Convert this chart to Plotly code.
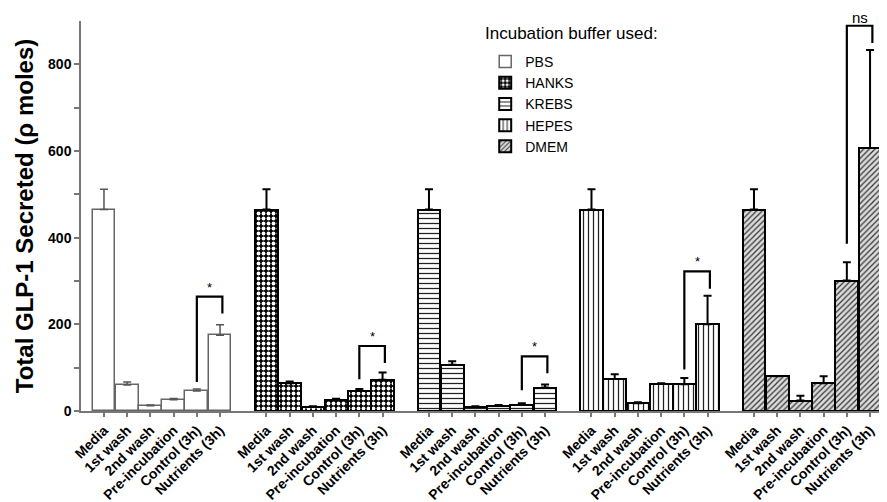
import plotly.graph_objects as go

# ---- data ----
categories = ["Media", "1st wash", "2nd wash", "Pre-incubation", "Control (3h)", "Nutrients (3h)"]
buffers = ["PBS", "HANKS", "KREBS", "HEPES", "DMEM"]

pbs_mean = [465, 60, 12, 26, 46, 175]
pbs_err = [47, 7, 2, 3, 5, 24]
hanks_mean = [465, 64, 10, 26, 46, 72]
hanks_err = [47, 4, 1, 2, 5, 17]
krebs_mean = [465, 107, 10, 12, 15, 54]
krebs_err = [47, 8, 1, 2, 3, 7]
hepes_mean = [465, 74, 18, 63, 62, 200]
hepes_err = [47, 11, 2, 1, 14, 66]
dmem_mean = [465, 80, 24, 64, 301, 607]
dmem_err = [47, 1, 11, 16, 42, 226]

# significance brackets: (left arm bottom, top, right arm bottom, label)
brackets = [
    (67, 264, 225, "*"),
    (73, 150, 111, "*"),
    (48, 126, 87, "*"),
    (96, 322, 282, "*"),
    (386, 889, 849, "ns"),
]

means = [pbs_mean, hanks_mean, krebs_mean, hepes_mean, dmem_mean]
errs = [pbs_err, hanks_err, krebs_err, hepes_err, dmem_err]

styles = [
    dict(color="white", line=dict(color="#666", width=1.5),
         pattern=dict(shape="")),
    dict(color="black", line=dict(color="black", width=2),
         pattern=dict(shape=".", fgcolor="white", bgcolor="black", size=5, solidity=0.45, fillmode="replace")),
    dict(color="white", line=dict(color="black", width=2),
         pattern=dict(shape="-", fgcolor="#222", bgcolor="white", size=5, solidity=0.25, fillmode="replace")),
    dict(color="white", line=dict(color="black", width=2),
         pattern=dict(shape="|", fgcolor="#222", bgcolor="white", size=5, solidity=0.25, fillmode="replace")),
    dict(color="#d0d0d0", line=dict(color="black", width=2),
         pattern=dict(shape="/", fgcolor="#333", bgcolor="#dcdcdc", size=4, solidity=0.3, fillmode="replace")),
]

GROUP = 7  # slots per group (6 bars + gap)
FONT = "Liberation Sans, Arial, sans-serif"

fig = go.Figure()
tickvals, ticktext = [], []
for g, name in enumerate(buffers):
    xs = [GROUP * g + i for i in range(len(categories))]
    tickvals += xs
    ticktext += categories
    st = styles[g]
    ecol = "#555" if g == 0 else "black"
    fig.add_trace(go.Bar(
        x=xs, y=means[g], name=name, width=0.98,
        marker=dict(color=st["color"], line=st["line"], pattern=st["pattern"]),
        error_y=dict(type="data", array=errs[g], arrayminus=[0] * len(errs[g]),
                     symmetric=False, color=ecol, thickness=2 if g else 1.5, width=4),
    ))

shapes, annotations = [], []
for g, (lb, top, rb, lab) in enumerate(brackets):
    xl = GROUP * g + 4
    xr = GROUP * g + 5 + 0.1
    shapes.append(dict(type="path", xref="x", yref="y",
                       path=f"M {xl} {lb} L {xl} {top} L {xr} {top} L {xr} {rb}",
                       line=dict(color="black", width=2.2)))
    annotations.append(dict(x=(xl + xr) / 2, y=top, xref="x", yref="y", text=lab,
                            showarrow=False, yanchor="bottom", yshift=0 if lab == "*" else -2,
                            font=dict(size=13 if lab == "*" else 15, color="black", family=FONT)))

# legend title as text above the legend entries
annotations.append(dict(x=0.4988, y=0.969, xref="paper", yref="paper", xanchor="left",
                        yanchor="middle", showarrow=False, text="Incubation buffer used:",
                        font=dict(size=17, color="black", family=FONT)))

fig.update_layout(
    width=879, height=494,
    margin=dict(l=73, r=0, t=13, b=91, autoexpand=False),
    paper_bgcolor="white", plot_bgcolor="white",
    bargap=0, showlegend=True,
    font=dict(family=FONT, color="black"),
    shapes=shapes, annotations=annotations,
    legend=dict(x=0.5015, y=0.936, xanchor="left", yanchor="top",
                font=dict(size=14), tracegroupgap=0, itemwidth=30,
                bgcolor="rgba(0,0,0,0)"),
)
fig.update_xaxes(
    automargin=False,
    range=[-0.99, 33.73], tickvals=tickvals, ticktext=ticktext, tickangle=-45,
    showline=True, linecolor="#777", linewidth=1.5, ticks="outside", ticklen=4,
    tickcolor="#777", tickwidth=1.5, showgrid=False, zeroline=False,
    tickfont=dict(size=14, family=FONT, weight="bold"),
)
fig.update_yaxes(
    automargin=False,
    range=[0, 900], tickvals=[0, 200, 400, 600, 800],
    showline=True, linecolor="#777", linewidth=1.5, ticks="outside", ticklen=5,
    tickcolor="#777", tickwidth=1.5, showgrid=False, zeroline=False,
    minor=dict(tickvals=[100, 300, 500, 700], ticks="outside", ticklen=5, tickcolor="#777", tickwidth=1.5),
    tickfont=dict(size=14, family=FONT, weight="bold"),
    title=dict(text="Total GLP-1 Secreted (ρ moles)", standoff=8,
               font=dict(size=24, family=FONT, weight="bold")),
)

fig.write_html("out.html")
